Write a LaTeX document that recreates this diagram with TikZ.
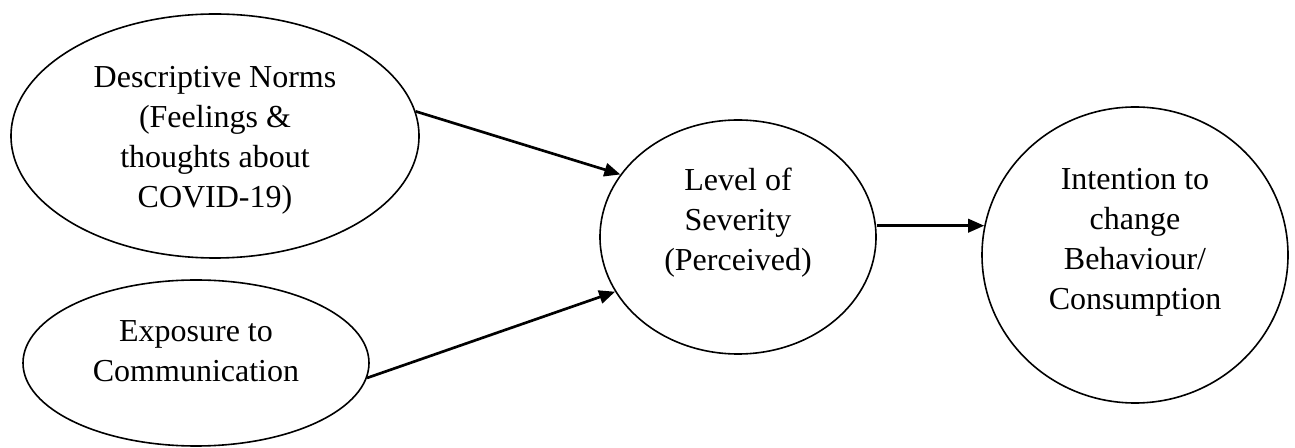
\documentclass[tikz,border=0pt]{standalone}
\usepackage{fontspec}
\setmainfont{Liberation Serif}
\usetikzlibrary{shapes.geometric,arrows.meta}
\tikzset{
  oval/.style={draw=black, line width=1.2pt, ellipse, inner sep=0pt},
  txt/.style={align=center, inner sep=0pt, font=\fontsize{24pt}{30pt}\selectfont},
  arr/.style={line width=2pt, -{Triangle[length=12pt,width=10pt]}}
}
\begin{document}
\begin{tikzpicture}[x=0.75pt,y=-0.75pt]
\useasboundingbox[fill=white] (0,0) rectangle (1295,448);
% shapes
\node[oval, minimum width=306pt, minimum height=183pt] (dn) at (215,136) {};
\node[oval, minimum width=259.5pt, minimum height=124.5pt] (ex) at (196,363) {};
\node[oval, minimum width=207pt, minimum height=175.5pt] (lv) at (738,237) {};
\node[oval, minimum width=229.5pt, minimum height=222pt] (int) at (1135,255) {};
% texts
\node[txt] (dnt) at (215,140) {Descriptive Norms\\(Feelings \&\\thoughts about\\COVID-19)};
\node[txt] (ext) at (196,351.5) {Exposure to\\Communication};
\node[txt] (lvt) at (738,222.5) {Level of\\Severity\\(Perceived)};
\node[txt] (intt) at (1135,242.5) {Intention to\\change\\Behaviour/\\Consumption};
% connectors
\draw[arr] (dn.7) -- (lv.152);
\draw[arr] (ex.-5) -- (lv.204);
\draw[arr] (int.169 -| lv.east) -- (int.169);
\end{tikzpicture}
\end{document}
